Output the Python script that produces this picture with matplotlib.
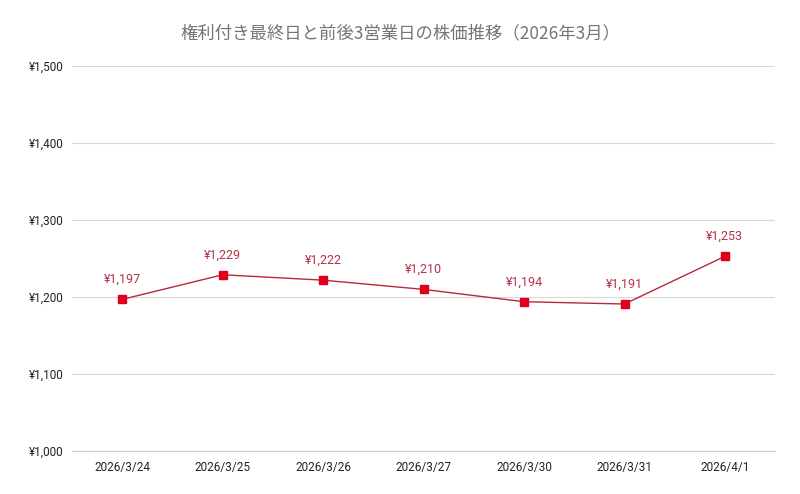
import matplotlib
matplotlib.use("Agg")
import matplotlib.pyplot as plt
from matplotlib.ticker import FuncFormatter

plt.rcParams['font.family'] = ['Roboto', 'Noto Sans CJK JP', 'DejaVu Sans']

dates = ["2026/3/24", "2026/3/25", "2026/3/26", "2026/3/27", "2026/3/30", "2026/3/31", "2026/4/1"]
prices = [1197, 1229, 1222, 1210, 1194, 1191, 1253]
title = "権利付き最終日と前後3営業日の株価推移（2026年3月）"

fig = plt.figure(figsize=(8, 4.94), dpi=100)
ax = fig.add_axes([0.09, 0.087, 0.879, 0.779])

x = list(range(len(dates)))
ax.plot(x, prices, color="#b8283c", linewidth=1.0, zorder=3)
ax.plot(x, prices, linestyle="none", marker="s", markersize=5.5,
        markerfacecolor="#e0001b", markeredgecolor="#e0001b", zorder=4)
for xi, p in zip(x, prices):
    ax.annotate(f"¥{p:,}", (xi, p), xytext=(0, 9.5), textcoords="offset points",
                ha="center", va="bottom", fontsize=9, color="#b5314a")

ax.set_xlim(-0.5, len(dates) - 0.5)
ax.set_ylim(1000, 1500)
ax.set_yticks([1000, 1100, 1200, 1300, 1400, 1500])
ax.yaxis.set_major_formatter(FuncFormatter(lambda v, _: f"¥{int(v):,}"))
ax.set_xticks(x)
ax.set_xticklabels(dates)
ax.grid(axis="y", color="#d9d9d9", linewidth=0.8)
ax.set_axisbelow(True)
for s in ["top", "right", "left"]:
    ax.spines[s].set_visible(False)
ax.spines["bottom"].set_color("#cccccc")
ax.tick_params(axis="both", length=0, labelsize=8.5, colors="#222222")
ax.tick_params(axis="y", pad=6)
ax.tick_params(axis="x", pad=7)

fig.text(0.5, 0.933, title, ha="center", va="center", fontsize=12.5,
         color="#757575", family=['Noto Sans CJK JP', 'DejaVu Sans'])

fig.savefig("out.png", dpi=100)
